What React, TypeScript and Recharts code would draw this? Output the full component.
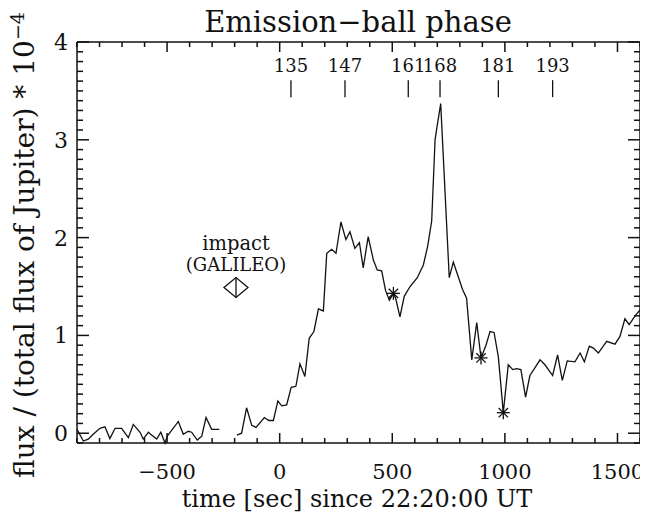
import React from "react"
import { ComposedChart, Line, Scatter, XAxis, YAxis } from "recharts"

// light curve before the gap (sec since 22:20:00 UT, flux in 1e-4 units)
const earlyTimes = [-900, -872, -850, -828, -798, -776, -754, -731, -702, -672, -650, -620, -606, -583, -573, -546, -528, -509, -499, -450, -428, -406, -391, -366, -346, -327, -302, -268]
const earlyFlux = [0.04, -0.08, -0.06, -0.01, 0.05, 0.065, -0.055, 0.05, 0.05, -0.045, 0.09, 0.01, -0.06, 0.01, -0.01, -0.06, 0.01, -0.1, -0.03, 0.12, -0.01, 0.02, 0.01, -0.07, -0.03, 0.16, 0.04, 0.04]

// light curve after the gap
const mainTimes = [-190, -169, -147, -124, -105, -68, -48, -28, -8, 9, 31, 51, 72, 90, 112, 131, 152, 172, 194, 209, 231, 250, 272, 294, 312, 334, 354, 371, 393, 416, 433, 453, 470, 487, 505, 515, 534, 553, 579, 611, 638, 657, 675, 690, 697, 715, 753, 771, 793, 812, 830, 853, 875, 894, 916, 934, 952, 971, 993, 1015, 1035, 1052, 1071, 1092, 1111, 1134, 1156, 1178, 1212, 1234, 1255, 1277, 1311, 1334, 1353, 1375, 1393, 1415, 1452, 1489, 1511, 1533, 1552, 1578, 1600]
const mainFlux = [-0.02, 0.0, 0.26, 0.08, 0.06, 0.16, 0.13, 0.13, 0.33, 0.28, 0.29, 0.47, 0.48, 0.71, 0.58, 0.97, 1.04, 1.27, 1.25, 1.84, 1.88, 1.84, 2.16, 1.98, 2.06, 1.89, 1.95, 1.69, 2.01, 1.77, 1.67, 1.66, 1.46, 1.36, 1.43, 1.38, 1.19, 1.4, 1.5, 1.59, 1.72, 1.91, 2.17, 3.0, 3.11, 3.37, 1.59, 1.75, 1.6, 1.47, 1.38, 0.75, 1.13, 0.77, 0.9, 1.04, 1.03, 0.78, 0.21, 0.7, 0.65, 0.66, 0.65, 0.37, 0.59, 0.67, 0.75, 0.7, 0.59, 0.8, 0.54, 0.74, 0.73, 0.82, 0.73, 0.89, 0.87, 0.82, 0.94, 0.91, 0.99, 1.17, 1.11, 1.2, 1.26]

// marked points (asterisks)
const starTimes = [505, 894, 993]
const starFlux = [1.43, 0.77, 0.21]

// image numbers along the top
const frameTimes = [50, 290, 571, 712, 971, 1212]
const frameLabels = ["135", "147", "161", "168", "181", "193"]

const impactTime = -194
const impactFlux = 1.49

const xMajorTicks = [-500, 0, 500, 1000, 1500]
const yMajorTicks = [0, 1, 2, 3, 4]

const X_MIN = -900
const X_MAX = 1600
const Y_MIN = -0.1
const Y_MAX = 4
const xTicks = Array.from({ length: 26 }, (_, i) => X_MIN + i * 100)
const yTicks = Array.from({ length: 42 }, (_, i) => Math.round((Y_MIN + i * 0.1) * 10) / 10)

const curve = [
  ...earlyTimes.map((t, i) => ({ t, v: earlyFlux[i] })),
  { t: -230, v: null },
  ...mainTimes.map((t, i) => ({ t, v: mainFlux[i] })),
]
const stars = starTimes.map((t, i) => ({ t, v: starFlux[i] }))
const frameTickTop = 3.61
const frames = frameTimes.map((t, i) => ({ t, v: frameTickTop, label: frameLabels[i] }))
const impact = [{ t: impactTime, v: impactFlux }]

// inward tick marks on all four sides of the box
const boxTicks = [
  ...xTicks.map((t) => ({ t, v: Y_MIN, side: "b", major: xMajorTicks.includes(t) })),
  ...xTicks.map((t) => ({ t, v: Y_MAX, side: "t", major: xMajorTicks.includes(t) })),
  ...yTicks.map((v) => ({ t: X_MIN, v, side: "l", major: yMajorTicks.includes(v) })),
  ...yTicks.map((v) => ({ t: X_MAX, v, side: "r", major: yMajorTicks.includes(v) })),
]

const INK = "#111"
const FONT = "DejaVu Serif"

const fmt = (v: number) => (v < 0 ? "\u2212" + Math.abs(v) : String(v))

const xLabel = (props: any) => {
  const { x, y, payload } = props
  if (!xMajorTicks.includes(payload.value)) return <g />
  return (
    <text x={x} y={y + 36} textAnchor="middle" fontFamily={FONT} fontSize={21} fill={INK}>
      {fmt(payload.value)}
    </text>
  )
}

const yLabel = (props: any) => {
  const { x, y, payload } = props
  if (!yMajorTicks.includes(payload.value)) return <g />
  return (
    <text x={x - 9} y={y + 8} textAnchor="end" fontFamily={FONT} fontSize={22} fill={INK}>
      {payload.value}
    </text>
  )
}

const BoxTick = (props: any) => {
  const { cx, cy, payload } = props
  const vertical = payload.side === "b" || payload.side === "t"
  const len = vertical ? (payload.major ? 10 : 5) : payload.major ? 12 : 6
  let x2 = cx
  let y2 = cy
  if (payload.side === "b") y2 = cy - len
  if (payload.side === "t") y2 = cy + len
  if (payload.side === "l") x2 = cx + len
  if (payload.side === "r") x2 = cx - len
  return <path d={`M${cx},${cy}L${x2},${y2}`} stroke={INK} strokeWidth={1.5} fill="none" />
}

const Asterisk = (props: any) => {
  const { cx, cy } = props
  const r = 6.5
  const d = r * 0.72
  return (
    <g stroke={INK} strokeWidth={1.3}>
      <line x1={cx - r} x2={cx + r} y1={cy} y2={cy} />
      <line x1={cx} x2={cx} y1={cy - r} y2={cy + r} />
      <line x1={cx - d} x2={cx + d} y1={cy - d} y2={cy + d} />
      <line x1={cx - d} x2={cx + d} y1={cy + d} y2={cy - d} />
    </g>
  )
}

const FrameMark = (props: any) => {
  const { cx, cy, payload } = props
  return (
    <g>
      <line x1={cx} x2={cx} y1={cy} y2={cy + 17} stroke={INK} strokeWidth={1.3} />
      <text x={cx} y={cy - 8} textAnchor="middle" fontFamily={FONT} fontSize={18} fill={INK}>
        {payload.label}
      </text>
    </g>
  )
}

const ImpactMark = (props: any) => {
  const { cx, cy } = props
  const w = 12
  const h = 10
  return (
    <g>
      <polygon
        points={`${cx - w},${cy} ${cx},${cy - h} ${cx + w},${cy} ${cx},${cy + h}`}
        fill="none"
        stroke={INK}
        strokeWidth={1.3}
      />
      <line x1={cx} x2={cx} y1={cy - h} y2={cy + h} stroke={INK} strokeWidth={1.3} />
      <text x={cx} y={cy - 37} textAnchor="middle" fontFamily={FONT} fontSize={19.5} fill={INK}>
        impact
      </text>
      <text x={cx} y={cy - 16} textAnchor="middle" fontFamily={FONT} fontSize={18} fill={INK}>
        (GALILEO)
      </text>
    </g>
  )
}

export default function App() {
  const axisLine = { stroke: INK, strokeWidth: 1.5 }
  return (
    <div style={{ position: "relative", width: 640, height: 506, background: "#fff" }}>
      <ComposedChart width={640} height={506} data={curve} margin={{ top: 33, right: 7, bottom: 70, left: 68 }}>
        <XAxis
          xAxisId="b"
          dataKey="t"
          type="number"
          domain={[X_MIN, X_MAX]}
          ticks={xTicks}
          interval={0}
          height={1}
          tickSize={0}
          tickMargin={0}
          tickLine={false}
          axisLine={axisLine}
          tick={xLabel}
        />
        <XAxis
          xAxisId="t"
          orientation="top"
          dataKey="t"
          type="number"
          domain={[X_MIN, X_MAX]}
          ticks={xTicks}
          interval={0}
          height={1}
          tickLine={false}
          axisLine={axisLine}
          tick={false}
        />
        <YAxis
          yAxisId="l"
          type="number"
          domain={[Y_MIN, Y_MAX]}
          ticks={yTicks}
          interval={0}
          width={1}
          tickSize={0}
          tickMargin={0}
          tickLine={false}
          axisLine={axisLine}
          tick={yLabel}
        />
        <YAxis
          yAxisId="r"
          orientation="right"
          type="number"
          domain={[Y_MIN, Y_MAX]}
          ticks={yTicks}
          interval={0}
          width={1}
          tickLine={false}
          axisLine={axisLine}
          tick={false}
        />
        <Scatter xAxisId="b" yAxisId="l" data={boxTicks} dataKey="v" shape={BoxTick} isAnimationActive={false} />
        <Line
          xAxisId="b"
          yAxisId="l"
          type="linear"
          dataKey="v"
          stroke={INK}
          strokeWidth={1.3}
          dot={false}
          connectNulls={false}
          isAnimationActive={false}
        />
        <Scatter xAxisId="b" yAxisId="l" data={stars} dataKey="v" shape={Asterisk} isAnimationActive={false} />
        <Scatter xAxisId="b" yAxisId="l" data={frames} dataKey="v" shape={FrameMark} isAnimationActive={false} />
        <Scatter xAxisId="b" yAxisId="l" data={impact} dataKey="v" shape={ImpactMark} isAnimationActive={false} />
      </ComposedChart>
      <div
        style={{
          position: "absolute",
          left: 0,
          width: 700,
          top: 0,
          textAlign: "center",
          fontFamily: FONT,
          fontSize: 29,
          lineHeight: "29px",
          color: INK,
        }}
      >
        Emission{"\u2212"}ball phase
      </div>
      <div
        style={{
          position: "absolute",
          left: 0,
          width: 698,
          top: 479,
          textAlign: "center",
          fontFamily: FONT,
          fontSize: 24,
          lineHeight: "24px",
          color: INK,
        }}
      >
        time [sec] since 22:20:00 UT
      </div>
      <div
        style={{
          position: "absolute",
          left: 13,
          top: 237,
          transform: "translate(-50%, -50%) rotate(-90deg)",
          whiteSpace: "nowrap",
          fontFamily: FONT,
          fontSize: 28,
          lineHeight: "28px",
          color: INK,
        }}
      >
        flux / (total flux of Jupiter) * 10
        <sup style={{ fontSize: 19, verticalAlign: "0.55em" }}>{"\u2212"}4</sup>
      </div>
    </div>
  )
}
